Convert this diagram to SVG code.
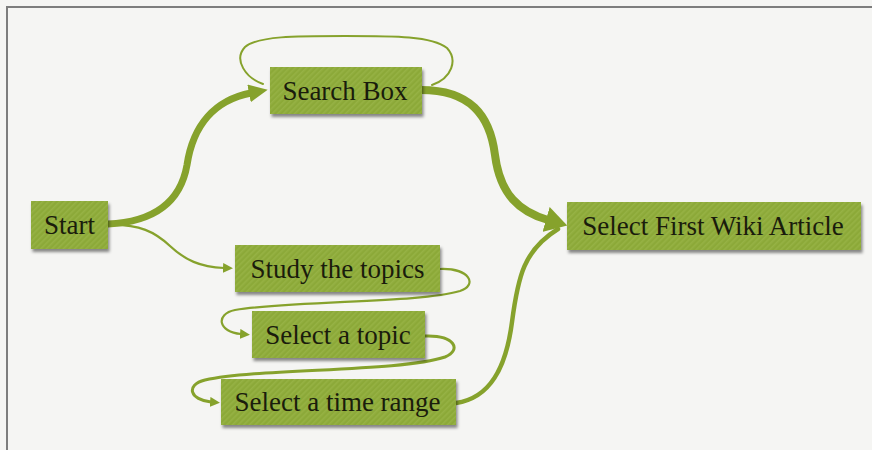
<svg xmlns="http://www.w3.org/2000/svg" width="872" height="450" viewBox="0 0 872 450">
  <style>
    .node rect { fill: url(#stripes); filter: url(#shadow); }
    .node text { font-family: "Liberation Serif", "Times New Roman", serif; font-size: 27px; fill: #1a1c0c; text-anchor: middle; }
    .edge { fill: none; stroke: #86a22c; stroke-linecap: round; }
  </style>
  <defs>
    <pattern id="stripes" patternUnits="userSpaceOnUse" width="4" height="4" patternTransform="rotate(45)">
      <rect width="4" height="4" fill="#8ca939"/>
      <rect width="1.6" height="4" fill="#96b244"/>
    </pattern>
    <filter id="shadow" x="-10%" y="-20%" width="125%" height="160%">
      <feDropShadow dx="1.5" dy="3" stdDeviation="1.6" flood-color="#000" flood-opacity="0.45"/>
    </filter>
    <marker id="headBig" markerUnits="userSpaceOnUse" markerWidth="24" markerHeight="26" refX="2" refY="13" orient="auto">
      <path d="M0,0 L22,13 L0,26 Z" fill="#86a22c"/>
    </marker>
    <marker id="headMid" markerUnits="userSpaceOnUse" markerWidth="20" markerHeight="20" refX="2" refY="9" orient="auto">
      <path d="M0,0 L19,9 L0,18 Z" fill="#86a22c"/>
    </marker>
    <marker id="headSmall" markerUnits="userSpaceOnUse" markerWidth="11" markerHeight="10" refX="1" refY="5" orient="auto">
      <path d="M0,0 L10,5 L0,10 Z" fill="#86a22c"/>
    </marker>
  </defs>

  <!-- page -->
  <rect width="872" height="450" fill="#f5f5f3"/>
  <path d="M7,450 V7 H872" fill="none" stroke="#7d7d7d" stroke-width="2"/>

  <!-- connectors -->
  <g id="connectors">
    <path class="edge" stroke-width="4.5" d="M456,403 C490,398 506,368 512,322 C518,276 524,250 558,229"/>
    <path class="edge" stroke-width="7" marker-end="url(#headMid)" d="M108,224 C150,222 180,205 187,165 C193,125 215,100 251,93"/>
    <path class="edge" stroke-width="2" d="M432,85 C452,78 458,60 447,48 C432,36 395,36 345,36 C295,36 258,36 245,47 C233,60 246,78 263,84"/>
    <path class="edge" stroke-width="8" marker-end="url(#headBig)" d="M421,90 C470,90 490,115 495,155 C500,195 520,212 548,220"/>
    <path class="edge" stroke-width="2.2" marker-end="url(#headSmall)" d="M108,225 C140,224 155,232 170,246 C185,260 200,267 224,268"/>
    <path class="edge" stroke-width="2.2" marker-end="url(#headSmall)" d="M440,269 C470,268 478,285 460,291 C420,303 300,300 235,310 C215,314 218,332 241,334"/>
    <path class="edge" stroke-width="3" marker-end="url(#headSmall)" d="M425,336 C455,335 462,350 445,357 C400,372 260,368 205,380 C185,385 190,400 211,402"/>
  </g>

  <!-- nodes -->
  <g id="start" class="node">
    <rect x="31" y="201" width="77" height="48"/>
    <text x="69.5" y="234">Start</text>
  </g>
  <g id="search-box" class="node">
    <rect x="270" y="67" width="152" height="47"/>
    <text x="345" y="100">Search Box</text>
  </g>
  <g id="study-topics" class="node">
    <rect x="235" y="245" width="205" height="47"/>
    <text x="337.5" y="278">Study the topics</text>
  </g>
  <g id="select-topic" class="node">
    <rect x="252" y="311" width="173" height="47"/>
    <text x="338" y="344">Select a topic</text>
  </g>
  <g id="select-time-range" class="node">
    <rect x="221" y="379" width="235" height="46"/>
    <text x="337.5" y="411">Select a time range</text>
  </g>
  <g id="select-first-article" class="node">
    <rect x="567" y="202" width="294" height="48"/>
    <text x="713" y="235">Select First Wiki Article</text>
  </g>
</svg>
